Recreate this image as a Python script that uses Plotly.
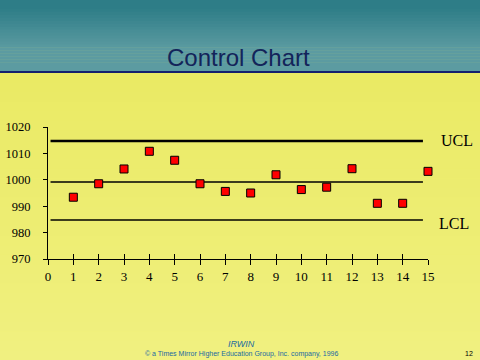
import plotly.graph_objects as go

# ---- data ----
samples = list(range(1, 16))
sample_means = [993.4, 998.5, 1004.1, 1010.8, 1007.4, 998.5, 995.6, 995.0,
                1001.9, 996.3, 997.2, 1004.2, 991.1, 991.1, 1003.2]
ucl_value = 1014.7
center_value = 999.2
lcl_value = 984.8
limit_x = [0.1, 14.8]
x_ticks = list(range(0, 16))
y_ticks = [970, 980, 990, 1000, 1010, 1020]
title_text = "Control Chart"
limit_labels = ["UCL", "LCL"]

W, H = 480, 360
L, R, T, B = 48, 52, 127, 101
PW, PH = W - L - R, H - T - B


def px_to_paper_x(px):
    return (px - L) / PW


def px_to_paper_y(py):
    return (H - B - py) / PH


def lerp(c1, c2, t):
    return "rgb(%d,%d,%d)" % tuple(round(a + (b - a) * t) for a, b in zip(c1, c2))


shapes = []
# teal header gradient
n = 24
top_c, bot_c = (46, 125, 135), (92, 155, 161)
for i in range(n):
    y0 = 71 * i / n
    y1 = 71 * (i + 1) / n
    t = min(1.0, max(0.0, (i / (n - 1) - 0.1) / 0.6))
    shapes.append(dict(type="rect", xref="paper", yref="paper", layer="below",
                       x0=px_to_paper_x(0), x1=px_to_paper_x(W),
                       y0=px_to_paper_y(y1 + 0.5), y1=px_to_paper_y(y0),
                       fillcolor=lerp(top_c, bot_c, t), line_width=0))
# yellow body gradient
n2 = 30
ytop, ybot = (234, 234, 100), (240, 240, 128)
for i in range(n2):
    y0 = 73 + (H - 73) * i / n2
    y1 = 73 + (H - 73) * (i + 1) / n2
    shapes.append(dict(type="rect", xref="paper", yref="paper", layer="below",
                       x0=px_to_paper_x(0), x1=px_to_paper_x(W),
                       y0=px_to_paper_y(y1 + 0.5), y1=px_to_paper_y(y0),
                       fillcolor=lerp(ytop, ybot, i / (n2 - 1)), line_width=0))
# separator line
shapes.append(dict(type="rect", xref="paper", yref="paper", layer="below",
                   x0=px_to_paper_x(0), x1=px_to_paper_x(W),
                   y0=px_to_paper_y(73), y1=px_to_paper_y(71),
                   fillcolor="#14206e", line_width=0))

fig = go.Figure()

# control limit lines
fig.add_trace(go.Scatter(x=limit_x, y=[ucl_value] * 2, mode="lines",
                         line=dict(color="black", width=2.5), hoverinfo="skip"))
fig.add_trace(go.Scatter(x=limit_x, y=[center_value] * 2, mode="lines",
                         line=dict(color="black", width=1.5), hoverinfo="skip"))
fig.add_trace(go.Scatter(x=limit_x, y=[lcl_value] * 2, mode="lines",
                         line=dict(color="black", width=1.5), hoverinfo="skip"))

# sample points
fig.add_trace(go.Scatter(x=samples, y=sample_means, mode="markers", cliponaxis=False,
                         marker=dict(symbol="square", size=8, color="#ff0000",
                                     line=dict(color="black", width=1))))

# inside tick overlay for crossing ticks
fig.add_trace(go.Scatter(x=[0], y=[970], xaxis="x2", mode="markers",
                         marker=dict(opacity=0), hoverinfo="skip"))

serif = "Liberation Serif, Times New Roman, serif"

annotations = [
    dict(text=title_text, x=0.5, xref="paper", xanchor="center",
         y=px_to_paper_y(57), yref="paper", yanchor="middle", showarrow=False,
         font=dict(family="Liberation Sans, Arial, sans-serif", size=24, color="#13245a")),
    dict(text=limit_labels[0], x=px_to_paper_x(439), xref="paper", xanchor="left",
         y=ucl_value, yref="y", yanchor="middle", showarrow=False,
         font=dict(family=serif, size=16, color="black")),
    dict(text=limit_labels[1], x=px_to_paper_x(437), xref="paper", xanchor="left",
         y=lcl_value - 1.2, yref="y", yanchor="middle", showarrow=False,
         font=dict(family=serif, size=16, color="black")),
    dict(text="<i>IRWIN</i>", x=px_to_paper_x(241), xref="paper", xanchor="center",
         y=px_to_paper_y(343.5), yref="paper", yanchor="middle", showarrow=False,
         font=dict(family="Liberation Sans, Arial, sans-serif", size=9, color="#1a6aa0")),
    dict(text="© a Times Mirror Higher Education Group, Inc. company, 1996",
         x=px_to_paper_x(241), xref="paper", xanchor="center",
         y=px_to_paper_y(354), yref="paper", yanchor="middle", showarrow=False,
         font=dict(family="Liberation Sans, Arial, sans-serif", size=7, color="#1a6aa0")),
    dict(text="12", x=px_to_paper_x(469), xref="paper", xanchor="center",
         y=px_to_paper_y(353), yref="paper", yanchor="middle", showarrow=False,
         font=dict(family="Liberation Sans, Arial, sans-serif", size=7, color="black")),
]

fig.update_layout(
    width=W, height=H,
    margin=dict(l=L, r=R, t=T, b=B, pad=0, autoexpand=False),
    paper_bgcolor="#eeee70",
    plot_bgcolor="rgba(0,0,0,0)",
    showlegend=False,
    shapes=shapes,
    annotations=annotations,
    xaxis=dict(range=[0, 15], tickvals=x_ticks, ticks="outside", ticklen=5,
               tickcolor="black", tickwidth=1, showgrid=False, zeroline=False,
               showline=True, linecolor="black", linewidth=1, automargin=False,
               tickfont=dict(family=serif, size=13, color="black")),
    xaxis2=dict(range=[0, 15], tickvals=x_ticks, ticks="inside", ticklen=5,
                tickcolor="black", tickwidth=1, showgrid=False, zeroline=False,
                showline=False, showticklabels=False, overlaying="x",
                anchor="y", side="bottom", automargin=False),
    yaxis=dict(range=[970, 1020], tickvals=y_ticks, ticks="outside", ticklen=4,
               tickcolor="black", tickwidth=1, showgrid=False, zeroline=False,
               showline=True, linecolor="black", linewidth=1, ticklabelstandoff=10,
               automargin=False,
               tickfont=dict(family=serif, size=12.5, color="black")),
)

fig.write_html("out.html", config={"displayModeBar": False},
               post_script="document.body.style.margin='0';document.body.style.overflow='hidden';")
